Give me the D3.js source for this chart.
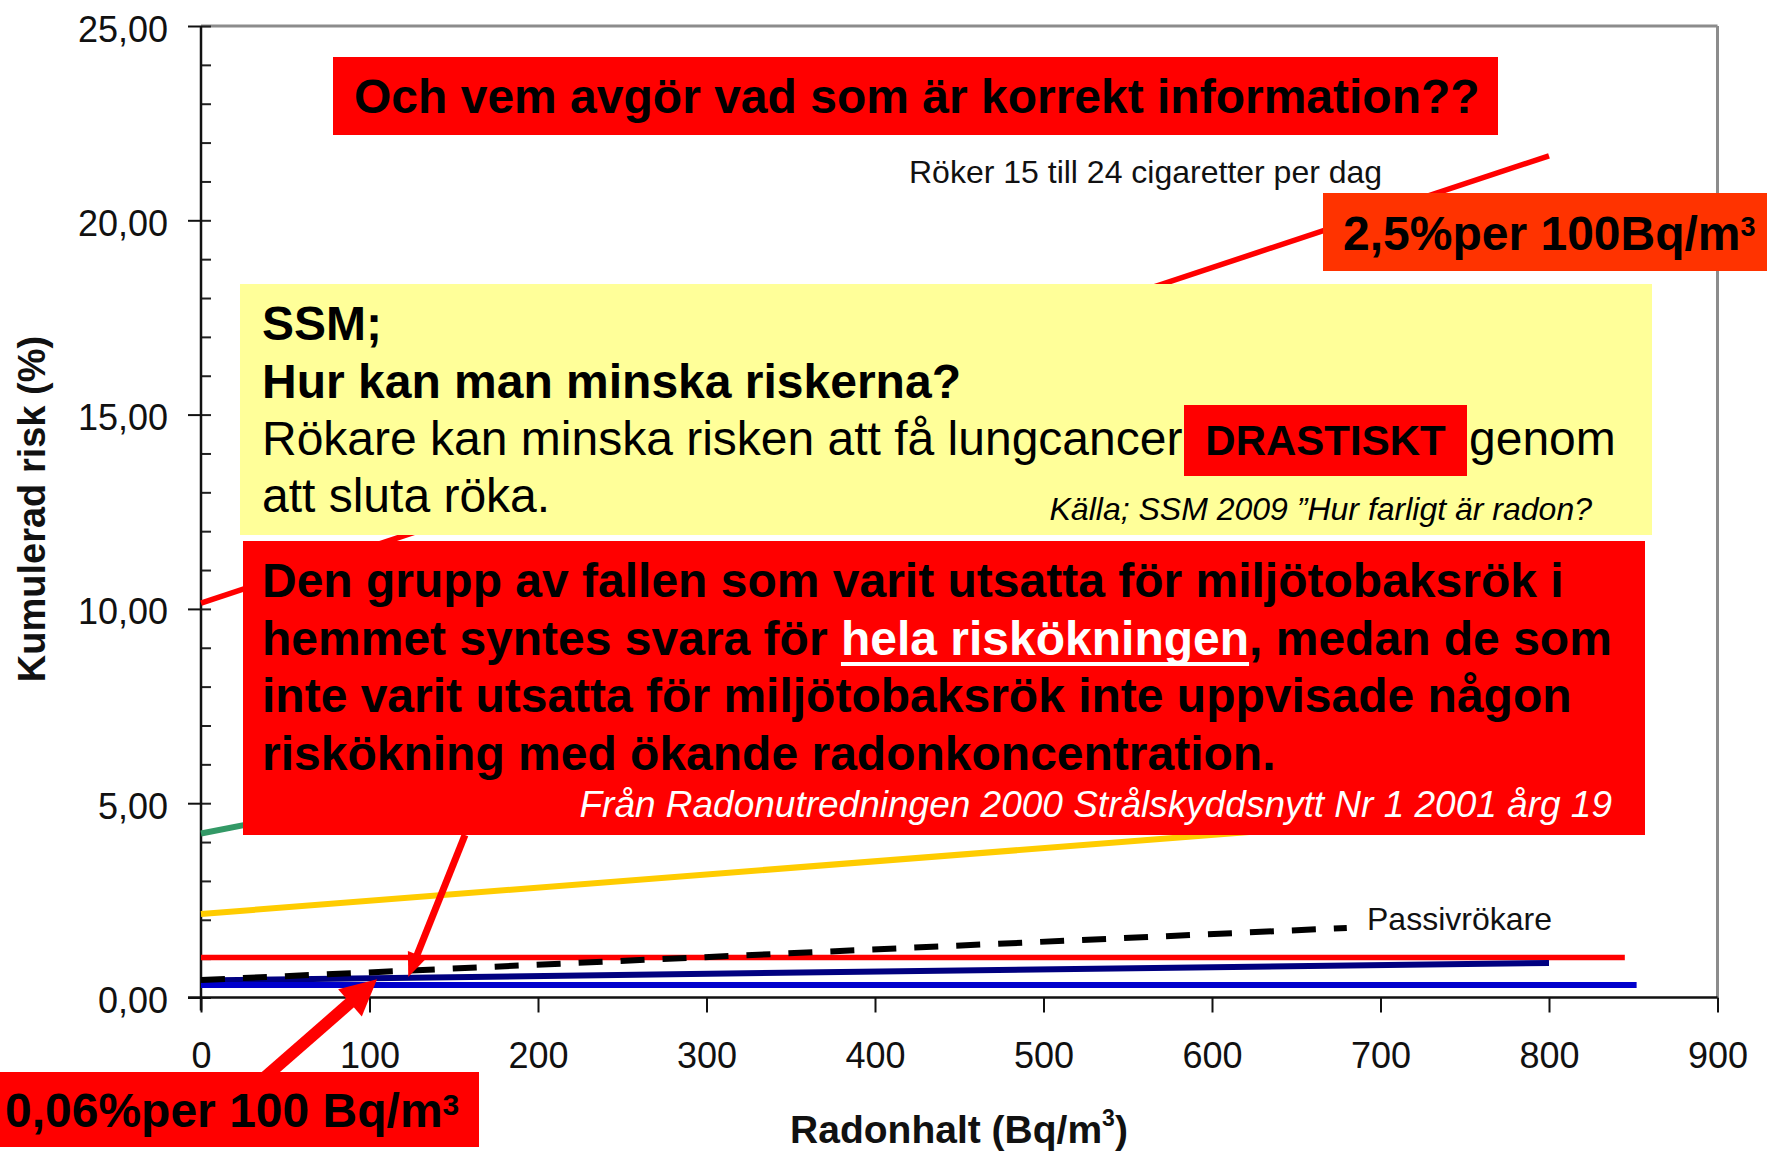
<!DOCTYPE html>
<html><head><meta charset="utf-8">
<script src="https://cdn.jsdelivr.net/npm/d3@7"></script>
<style>body{margin:0;background:#fff}svg{display:block}text{font-family:"Liberation Sans",Arial,sans-serif}</style>
</head><body>
<svg id="c" width="1767" height="1152"></svg>
<script>
// ---- data ----
const xTicks = [0,100,200,300,400,500,600,700,800,900];
const yTicks = [0,5,10,15,20,25];
const smokerX = [0,800],  smokerY = [10.15,21.66];
const greenX  = [0,800],  greenY  = [4.22,11.0];
const yellowX = [0,800],  yellowY = [2.15,4.86];
const passiveX = [0,680], passiveY = [0.45,1.79];
const redFlatX = [0,845], redFlatY = [1.03,1.03];
const navyX = [0,800],    navyY = [0.44,0.89];
const blueX = [0,852],    blueY = [0.32,0.32];

const svg = d3.select("#c");
const x = d3.scaleLinear().domain([0,900]).range([201,1717.5]);
const y = d3.scaleLinear().domain([0,25]).range([997.5,26]);
const fmtY = d => d3.format(".2f")(d).replace(".", ",");

// plot frame (top/right grey)
svg.append("line").attr("x1",x(0)).attr("x2",x(900)).attr("y1",y(25)).attr("y2",y(25)).attr("stroke","#8c8c8c").attr("stroke-width",3);
svg.append("line").attr("x1",x(900)).attr("x2",x(900)).attr("y1",y(25)).attr("y2",y(0)).attr("stroke","#8c8c8c").attr("stroke-width",3);

// minor y ticks (inside)
const yMinor = svg.append("g").attr("transform",`translate(${x(0)},0)`)
  .call(d3.axisRight(y).tickValues(d3.range(0,26,1)).tickSize(10).tickFormat(""));
yMinor.select(".domain").remove();
yMinor.selectAll("line").attr("stroke","#222").attr("stroke-width",2);

// y axis
const gy = svg.append("g").attr("transform",`translate(${x(0)},0)`)
  .call(d3.axisLeft(y).tickValues(yTicks).tickSize(13).tickSizeOuter(0).tickPadding(20).tickFormat(fmtY));
gy.select(".domain").attr("stroke","#111").attr("stroke-width",2.5);
gy.selectAll("line").attr("stroke","#111").attr("stroke-width",2);
gy.selectAll("text").attr("font-size",36).attr("fill","#111").attr("dy",null)
  .attr("y",15);
gy.attr("font-family",null);

// x axis
const gx = svg.append("g").attr("transform",`translate(0,${y(0)})`)
  .call(d3.axisBottom(x).tickValues(xTicks).tickSize(15).tickSizeOuter(0).tickFormat(d3.format("d")));
gx.select(".domain").attr("stroke","#111").attr("stroke-width",2.5).attr("d",`M${x(0)-13},0H${x(900)}`);
gx.selectAll("line").attr("stroke","#111").attr("stroke-width",2);
gx.selectAll("text").attr("font-size",36).attr("fill","#111").attr("dy",null).attr("y",70.5);
gx.attr("font-family",null);
gy.select(".domain").attr("d",`M0,${y(25)}V${y(0)+13}`);

// axis titles
svg.append("text").attr("transform",`translate(45,509) rotate(-90)`)
  .attr("text-anchor","middle").attr("font-size",38).attr("font-weight","bold").attr("fill","#111")
  .text("Kumulerad risk (%)");
const xt = svg.append("text").attr("x",959).attr("y",1143).attr("text-anchor","middle")
  .attr("font-size",39).attr("font-weight","bold").attr("fill","#111");
xt.append("tspan").text("Radonhalt (Bq/m");
xt.append("tspan").attr("font-size",23).attr("dy",-17).text("3");
xt.append("tspan").attr("dy",17).text(")");

// series
const line = d3.line().x(d => x(d[0])).y(d => y(d[1]));
function series(xs, ys, color, w, dash){
  const p = svg.append("path").datum(d3.zip(xs, ys)).attr("d",line)
    .attr("fill","none").attr("stroke",color).attr("stroke-width",w);
  if(dash) p.attr("stroke-dasharray",dash);
}
series(smokerX, smokerY, "#ff0000", 5.5);
series(greenX, greenY, "#339966", 6);
series(yellowX, yellowY, "#ffcc00", 6);
series(redFlatX, redFlatY, "#ff0000", 5.5);
series(navyX, navyY, "#000080", 6);
series(blueX, blueY, "#0000cc", 6);
series(passiveX, passiveY, "#000000", 6, "24 18");

// series labels
svg.append("text").attr("x",909).attr("y",183).attr("font-size",32).attr("fill","#111").text("Röker 15 till 24 cigaretter per dag");
svg.append("text").attr("x",1367).attr("y",930).attr("font-size",32).attr("fill","#111").text("Passivrökare");

// ---- annotation boxes ----
function box(x0,y0,x1,y1,fill){ svg.append("rect").attr("x",x0).attr("y",y0).attr("width",x1-x0).attr("height",y1-y0).attr("fill",fill); }

box(333,57,1498,135,"#ff0000");
svg.append("text").attr("x",354).attr("y",113).attr("font-size",48).attr("font-weight","bold").attr("fill","#000")
  .text("Och vem avgör vad som är korrekt information??");

box(1323,193,1767,271,"#ff3300");
const t25 = svg.append("text").attr("x",1343).attr("y",250).attr("font-size",48).attr("font-weight","bold").attr("fill","#000");
t25.append("tspan").text("2,5%per 100Bq/m");
t25.append("tspan").attr("font-size",27).attr("dy",-14).text("3");

// yellow box
box(240,284,1652,535,"#ffff99");
const yb = (txt, yy, w, size) => svg.append("text").attr("x",262).attr("y",yy).attr("font-size",size||48)
  .attr("font-weight",w||"normal").attr("fill","#000").text(txt);
yb("SSM;",340,"bold");
yb("Hur kan man minska riskerna?",398,"bold");
yb("Rökare kan minska risken att få lungcancer",455);
box(1184,405,1467,476,"#ff0000");
svg.append("text").attr("x",1325.5).attr("y",455).attr("text-anchor","middle").attr("font-size",42)
  .attr("font-weight","bold").attr("fill","#000").text("DRASTISKT");
svg.append("text").attr("x",1469).attr("y",455).attr("font-size",48).attr("fill","#000").text("genom");
yb("att sluta röka.",512);
svg.append("text").attr("x",1592).attr("y",520).attr("text-anchor","end").attr("font-size",32)
  .attr("font-style","italic").attr("fill","#000").text("Källa; SSM 2009 ”Hur farligt är radon?");

// big red box
box(243,541,1645,835,"#ff0000");
const rb = (yy) => svg.append("text").attr("x",262).attr("y",yy).attr("font-size",48).attr("font-weight","bold").attr("fill","#000");
rb(597).text("Den grupp av fallen som varit utsatta för miljötobaksrök i");
const l2 = rb(655);
l2.append("tspan").text("hemmet syntes svara för ");
l2.append("tspan").attr("fill","#fff").text("hela riskökningen");
l2.append("tspan").text(", medan de som");
rb(712).text("inte varit utsatta för miljötobaksrök inte uppvisade någon");
rb(770).text("riskökning med ökande radonkoncentration.");
{
  const node = l2.node();
  const a = "hemmet syntes svara för ".length, b = "hela riskökningen".length;
  const sx = node.getStartPositionOfChar(a).x;
  const ex = node.getEndPositionOfChar(a+b-1).x;
  svg.append("rect").attr("x",sx).attr("y",662).attr("width",ex-sx).attr("height",4).attr("fill","#fff");
}
svg.append("text").attr("x",1612).attr("y",817).attr("text-anchor","end").attr("font-size",37)
  .attr("font-style","italic").attr("fill","#fff").text("Från Radonutredningen 2000 Strålskyddsnytt Nr 1 2001 årg 19");

// bottom-left box
box(0,1072,479,1147,"#ff0000");
const t06 = svg.append("text").attr("x",5).attr("y",1127).attr("font-size",48).attr("font-weight","bold").attr("fill","#000");
t06.append("tspan").text("0,06%per 100 Bq/m");
t06.append("tspan").attr("font-size",30).attr("dy",-12).text("3");

// arrows
function arrow(x0,y0,x1,y1,w,hl,hw){
  const dx=x1-x0, dy=y1-y0, L=Math.hypot(dx,dy), ux=dx/L, uy=dy/L;
  const bx=x1-ux*hl, by=y1-uy*hl;
  svg.append("line").attr("x1",x0).attr("y1",y0).attr("x2",bx+ux*2).attr("y2",by+uy*2)
    .attr("stroke","#ff0000").attr("stroke-width",w);
  svg.append("path").attr("d",`M${x1},${y1}L${bx-uy*hw/2},${by+ux*hw/2}L${bx+uy*hw/2},${by-ux*hw/2}Z`).attr("fill","#ff0000");
}
arrow(465,835, x(123), y(0.53), 7, 24, 20);
arrow(264,1078, x(104.5), y(0.47), 12, 36, 36);
</script>
</body></html>
